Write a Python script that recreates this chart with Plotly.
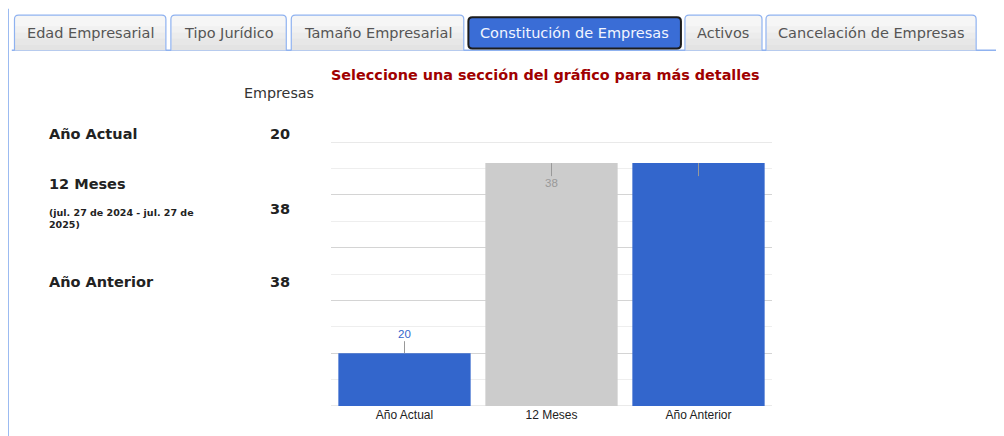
import plotly.graph_objects as go

# ---------------- data ----------------
categories = ["Año Actual", "12 Meses", "Año Anterior"]
values = [20, 38, 38]
bar_colors = ["#3366cc", "#cccccc", "#3366cc"]
label_colors = ["#3366cc", "#999999", "#3366cc"]
axis_min, axis_max = 15, 40

tab_labels = ["Edad Empresarial", "Tipo Jurídico", "Tamaño Empresarial",
              "Constitución de Empresas", "Activos", "Cancelación de Empresas"]
active_tab = "Constitución de Empresas"

side_labels = ["Año Actual", "12 Meses", "Año Anterior"]
side_values = [20, 38, 38]
side_note = "(jul. 27 de 2024 - jul. 27 de<br>2025)"
title_text = "Seleccione una sección del gráfico para más detalles"
column_header = "Empresas"

# ---------------- layout geometry (screen pixels, page has 8px body margin) ----------------
OFF = 8
W, H = 996, 428
PLOT_L, PLOT_R, PLOT_T, PLOT_B = 331, 771.7, 142, 405.7   # screen coords
ML = PLOT_L - OFF
MT = PLOT_T - OFF
MR = W - (PLOT_R - OFF)
MB = H - (PLOT_B - OFF)
PW = W - ML - MR
PH = H - MT - MB


def px(x):
    return (x - OFF - ML) / PW


def py(y):
    return (PLOT_B - y) / PH


tab_x = [(14.7, 166), (171, 286.3), (291.3, 463.7), (468.3, 680.7), (684.7, 761.7), (765.7, 975.7)]
TAB_TOP, TAB_BOT = 15.3, 50.3

fig = go.Figure()
fig.add_trace(go.Bar(
    x=categories, y=values,
    marker=dict(color=bar_colors, line=dict(width=0)),
    hoverinfo="x+y", showlegend=False,
))

shapes = []
annotations = []

# edge gridlines (top and baseline), drawn below the bars
for gv in (axis_min, axis_max):
    shapes.append(dict(type="line", xref="paper", yref="y", x0=0, x1=1, y0=gv, y1=gv,
                       line=dict(color="#d4d4d4", width=1), layer="below"))


def rounded_top_path(x0, x1, y0, y1, r=4):
    return (f"M {px(x0)},{py(y1)} L {px(x0)},{py(y0 + r)} "
            f"Q {px(x0)},{py(y0)} {px(x0 + r)},{py(y0)} "
            f"L {px(x1 - r)},{py(y0)} Q {px(x1)},{py(y0)} {px(x1)},{py(y0 + r)} "
            f"L {px(x1)},{py(y1)}")


def rounded_all_path(x0, x1, y0, y1, r=4):
    return (f"M {px(x0 + r)},{py(y0)} L {px(x1 - r)},{py(y0)} "
            f"Q {px(x1)},{py(y0)} {px(x1)},{py(y0 + r)} "
            f"L {px(x1)},{py(y1 - r)} Q {px(x1)},{py(y1)} {px(x1 - r)},{py(y1)} "
            f"L {px(x0 + r)},{py(y1)} Q {px(x0)},{py(y1)} {px(x0)},{py(y1 - r)} "
            f"L {px(x0)},{py(y0 + r)} Q {px(x0)},{py(y0)} {px(x0 + r)},{py(y0)} Z")


# left border line and tab baseline
shapes.append(dict(type="line", xref="paper", yref="paper",
                   x0=px(8.3), x1=px(8.3), y0=py(9), y1=py(440),
                   line=dict(color="#8fb2f0", width=1.6), layer="above"))
shapes.append(dict(type="line", xref="paper", yref="paper",
                   x0=px(12), x1=px(1010), y0=py(50.3), y1=py(50.3),
                   line=dict(color="#8fb2f0", width=1.6), layer="above"))

grad = ["#f6f6f6", "#f1f1f1", "#ececec", "#e7e7e7", "#e3e3e3"]
for lbl, (x0, x1) in zip(tab_labels, tab_x):
    if lbl == active_tab:
        shapes.append(dict(type="path", xref="paper", yref="paper",
                           path=rounded_all_path(x0, x1, 17.3, 48.7, 4),
                           fillcolor="#3a6dd6", line=dict(color="#1c1c1c", width=2),
                           layer="above"))
        col = "#f2f5ff"
    else:
        shapes.append(dict(type="path", xref="paper", yref="paper",
                           path=rounded_top_path(x0, x1, TAB_TOP, TAB_BOT, 4) + " Z",
                           fillcolor=grad[0], line=dict(width=0), layer="above"))
        n = len(grad)
        band = (TAB_BOT - TAB_TOP - 5) / n
        for i, g in enumerate(grad):
            shapes.append(dict(type="rect", xref="paper", yref="paper",
                               x0=px(x0 + 0.5), x1=px(x1 - 0.5),
                               y0=py(TAB_TOP + 5 + i * band), y1=py(TAB_TOP + 5 + (i + 1) * band),
                               fillcolor=g, line=dict(width=0), layer="above"))
        shapes.append(dict(type="path", xref="paper", yref="paper",
                           path=rounded_top_path(x0, x1, TAB_TOP, TAB_BOT, 4),
                           fillcolor="rgba(0,0,0,0)", line=dict(color="#8fb2f0", width=1.2),
                           layer="above"))
        col = "#555555"
    annotations.append(dict(xref="paper", yref="paper", x=px((x0 + x1) / 2), y=py(33),
                            text=lbl, showarrow=False, xanchor="center", yanchor="middle",
                            font=dict(family="DejaVu Sans", size=14.5, color=col)))

# title
annotations.append(dict(xref="paper", yref="paper", x=px(545.5), y=py(75),
                        text=f"<b>{title_text}</b>", showarrow=False,
                        xanchor="center", yanchor="middle",
                        font=dict(family="DejaVu Sans", size=14.4, color="#a00000")))
# column header
annotations.append(dict(xref="paper", yref="paper", x=px(316), y=py(93),
                        text=column_header, showarrow=False,
                        xanchor="right", yanchor="middle",
                        font=dict(family="DejaVu Sans", size=14.3, color="#333333")))

# side panel
side_label_y = [134.5, 184, 281.5]
side_value_y = [134.5, 208.5, 281.5]
for lbl, v, ly, vy in zip(side_labels, side_values, side_label_y, side_value_y):
    annotations.append(dict(xref="paper", yref="paper", x=px(47), y=py(ly),
                            text=f"<b>{lbl}</b>", showarrow=False,
                            xanchor="left", yanchor="middle",
                            font=dict(family="DejaVu Sans", size=14.5, color="#222222")))
    annotations.append(dict(xref="paper", yref="paper", x=px(292), y=py(vy),
                            text=f"<b>{v}</b>", showarrow=False,
                            xanchor="right", yanchor="middle",
                            font=dict(family="DejaVu Sans", size=14.5, color="#222222")))
annotations.append(dict(xref="paper", yref="paper", x=px(46.8), y=py(218.5),
                        text=f"<b>{side_note}</b>", showarrow=False,
                        xanchor="left", yanchor="middle", align="left",
                        font=dict(family="DejaVu Sans", size=9.5, color="#222222")))

# bar annotations with stems
for cat, v, lc, bc in zip(categories, values, label_colors, bar_colors):
    if v < 30:
        shapes.append(dict(type="line", xref="x", yref="y", ysizemode="pixel",
                           x0=cat, x1=cat, yanchor=v, y0=0, y1=12,
                           line=dict(color="#999999", width=1), layer="above"))
        annotations.append(dict(xref="x", yref="y", x=cat, y=v, yshift=19,
                                text=str(v), showarrow=False, yanchor="middle",
                                font=dict(family="Liberation Sans", size=11.5, color=lc)))
    else:
        shapes.append(dict(type="line", xref="x", yref="y", ysizemode="pixel",
                           x0=cat, x1=cat, yanchor=v, y0=0, y1=-13,
                           line=dict(color="#999999", width=1), layer="above"))
        annotations.append(dict(xref="x", yref="y", x=cat, y=v, yshift=-20,
                                text=str(v), showarrow=False, yanchor="middle",
                                font=dict(family="Liberation Sans", size=11.5, color=lc)))

fig.update_layout(
    width=W, height=H,
    margin=dict(l=ML, r=MR, t=MT, b=MB),
    paper_bgcolor="white", plot_bgcolor="white",
    bargap=0.1,
    shapes=shapes, annotations=annotations,
    xaxis=dict(showgrid=False, zeroline=False, showline=False, ticks="",
               tickfont=dict(family="Liberation Sans", size=12, color="#222222"),
               fixedrange=True),
    yaxis=dict(range=[axis_min, axis_max], dtick=5, tick0=0, showticklabels=False,
               gridcolor="#d4d4d4", gridwidth=1, zeroline=False, showline=False,
               minor=dict(dtick=2.5, tick0=0, showgrid=True, gridcolor="#eeeeee"),
               fixedrange=True),
    font=dict(family="Liberation Sans"),
)

fig.write_html("out.html")
